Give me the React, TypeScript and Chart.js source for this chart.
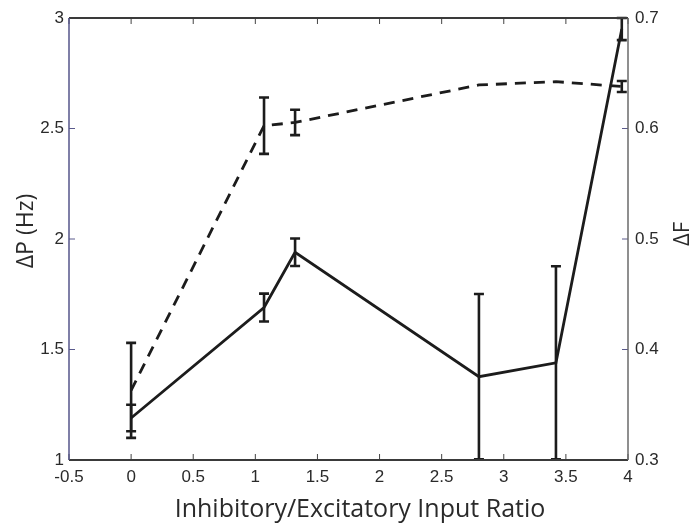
import React, { useEffect, useRef } from "react";
import { Chart, registerables } from "chart.js";

Chart.register(...registerables);

// Data
const ratios = [0, 1.07, 1.32, 2.8, 3.42, 3.95];
const deltaP = [1.19, 1.69, 1.94, 1.377, 1.44, 2.95];
const deltaPErr = [0.06, 0.063, 0.062, 0.374, 0.437, 0.05];
const deltaF = [0.363, 0.6025, 0.6055, 0.6394, 0.6424, 0.638];
const deltaFErr = [0.043, 0.0255, 0.0115, 0, 0, 0.005];

const xTicks = [-0.5, 0, 0.5, 1, 1.5, 2, 2.5, 3, 3.5, 4];
const leftTicks = [1, 1.5, 2, 2.5, 3];
const rightTicks = [0.3, 0.4, 0.5, 0.6, 0.7];

const xTitle = "Inhibitory/Excitatory Input Ratio";
const leftTitle = "ΔP (Hz)";
const rightTitle = "ΔF";

const errors: Record<string, number[]> = { P: deltaPErr, F: deltaFErr };

const errorBarPlugin = {
  id: "errorBars",
  afterDatasetsDraw(chart: any) {
    const ctx = chart.ctx;
    const xs = chart.scales.x;
    chart.data.datasets.forEach((ds: any) => {
      const ys = chart.scales[ds.yAxisID];
      const errs = errors[ds.errKey];
      ctx.save();
      ctx.strokeStyle = "#1c1c1c";
      ctx.lineWidth = 2.6;
      ctx.setLineDash([]);
      ds.data.forEach((p: any, i: number) => {
        const e = errs[i];
        if (!e) return;
        const px = xs.getPixelForValue(p.x);
        const yt = ys.getPixelForValue(p.y + e);
        const yb = ys.getPixelForValue(p.y - e);
        ctx.beginPath();
        ctx.moveTo(px, yt);
        ctx.lineTo(px, yb);
        ctx.moveTo(px - 5, yt);
        ctx.lineTo(px + 5, yt);
        ctx.moveTo(px - 5, yb);
        ctx.lineTo(px + 5, yb);
        ctx.stroke();
      });
      ctx.restore();
    });
  },
};

const framePlugin = {
  id: "frame",
  afterDatasetsDraw(chart: any) {
    const ctx = chart.ctx;
    const { left, right, top, bottom } = chart.chartArea;
    const xs = chart.scales.x;
    const yl = chart.scales.y;
    const yr = chart.scales.y2;
    const tl = 6;
    ctx.save();
    ctx.setLineDash([]);
    // inward ticks
    ctx.lineWidth = 1;
    ctx.strokeStyle = "#444";
    xs.ticks.forEach((t: any) => {
      const px = xs.getPixelForValue(t.value);
      ctx.beginPath();
      ctx.moveTo(px, bottom);
      ctx.lineTo(px, bottom - tl);
      ctx.moveTo(px, top);
      ctx.lineTo(px, top + tl);
      ctx.stroke();
    });
    ctx.strokeStyle = "#5a5a8c";
    yl.ticks.forEach((t: any) => {
      const py = yl.getPixelForValue(t.value);
      ctx.beginPath();
      ctx.moveTo(left, py);
      ctx.lineTo(left + tl, py);
      ctx.stroke();
    });
    yr.ticks.forEach((t: any) => {
      const py = yr.getPixelForValue(t.value);
      ctx.beginPath();
      ctx.moveTo(right, py);
      ctx.lineTo(right - tl, py);
      ctx.stroke();
    });
    // axis lines
    ctx.lineWidth = 2;
    ctx.strokeStyle = "#3a3a3a";
    ctx.beginPath();
    ctx.moveTo(left, top);
    ctx.lineTo(right, top);
    ctx.moveTo(left, bottom);
    ctx.lineTo(right, bottom);
    ctx.stroke();
    ctx.lineWidth = 1.5;
    ctx.strokeStyle = "#55558a";
    ctx.beginPath();
    ctx.moveTo(left, top);
    ctx.lineTo(left, bottom);
    ctx.stroke();
    ctx.strokeStyle = "#6a6a6a";
    ctx.beginPath();
    ctx.moveTo(right, top);
    ctx.lineTo(right, bottom);
    ctx.stroke();

    // axis titles
    const midY = (top + bottom) / 2;
    ctx.fillStyle = "#2a2a2a";
    ctx.textAlign = "center";
    ctx.textBaseline = "alphabetic";
    ctx.font = "25px 'Open Sans', sans-serif";
    ctx.fillText(xTitle, 360, 517);

    ctx.font = "23px 'Open Sans', sans-serif";
    ctx.save();
    ctx.translate(33, midY - 8);
    ctx.rotate(-Math.PI / 2);
    ctx.fillText(leftTitle, 0, 0);
    ctx.restore();

    ctx.font = "22px 'Open Sans', sans-serif";
    ctx.save();
    ctx.translate(689, midY - 5);
    ctx.rotate(-Math.PI / 2);
    ctx.fillText(rightTitle, 0, 0);
    ctx.restore();
    ctx.restore();
  },
};

export default function App() {
  const ref = useRef<HTMLCanvasElement>(null);
  useEffect(() => {
    if (!ref.current) return;
    const tickFont = { family: "'Liberation Sans', Arial, sans-serif", size: 17 };
    const chart = new Chart(ref.current, {
      type: "line",
      data: {
        datasets: [
          {
            label: "ΔP",
            errKey: "P",
            data: ratios.map((x, i) => ({ x, y: deltaP[i] })),
            yAxisID: "y",
            borderColor: "#1c1c1c",
            borderWidth: 2.8,
            pointRadius: 0,
            tension: 0,
            fill: false,
          } as any,
          {
            label: "ΔF",
            errKey: "F",
            data: ratios.map((x, i) => ({ x, y: deltaF[i] })),
            yAxisID: "y2",
            borderColor: "#1c1c1c",
            borderWidth: 2.8,
            borderDash: [11, 8],
            pointRadius: 0,
            tension: 0,
            fill: false,
          } as any,
        ],
      },
      options: {
        animation: false,
        responsive: false,
        layout: { padding: { top: 18, left: 0, right: 0, bottom: 0 } },
        plugins: { legend: { display: false }, tooltip: { enabled: false } },
        scales: {
          x: {
            type: "linear",
            min: -0.5,
            max: 4,
            afterBuildTicks: (s: any) => {
              s.ticks = xTicks.map((v) => ({ value: v }));
            },
            afterFit: (s: any) => {
              s.height = 67;
            },
            grid: { display: false, drawTicks: false },
            border: { display: false },
            ticks: {
              color: "#2a2a2a",
              font: tickFont,
              padding: 7,
              maxRotation: 0,
              callback: (v: any) => String(v),
            },
            title: { display: false, text: xTitle },
          },
          y: {
            type: "linear",
            position: "left",
            min: 1,
            max: 3,
            afterBuildTicks: (s: any) => {
              s.ticks = leftTicks.map((v) => ({ value: v }));
            },
            afterFit: (s: any) => {
              s.width = 69;
            },
            grid: { display: false, drawTicks: false },
            border: { display: false },
            ticks: {
              color: "#2a2a2a",
              font: tickFont,
              padding: 5,
              callback: (v: any) => String(v),
            },
            title: { display: false, text: leftTitle },
          },
          y2: {
            type: "linear",
            position: "right",
            min: 0.3,
            max: 0.7,
            afterBuildTicks: (s: any) => {
              s.ticks = rightTicks.map((v) => ({ value: v }));
            },
            afterFit: (s: any) => {
              s.width = 69;
            },
            grid: { display: false, drawTicks: false },
            border: { display: false },
            ticks: {
              color: "#2a2a2a",
              font: tickFont,
              padding: 7,
              callback: (v: any) => Number(v).toFixed(1),
            },
            title: { display: false, text: rightTitle },
          },
        },
      },
      plugins: [errorBarPlugin, framePlugin],
    });
    return () => chart.destroy();
  }, []);
  return (
    <div style={{ position: "fixed", left: 0, top: 0, width: 697, height: 527, background: "#fff" }}>
      <canvas ref={ref} width={697} height={527} style={{ display: "block" }} />
    </div>
  );
}
